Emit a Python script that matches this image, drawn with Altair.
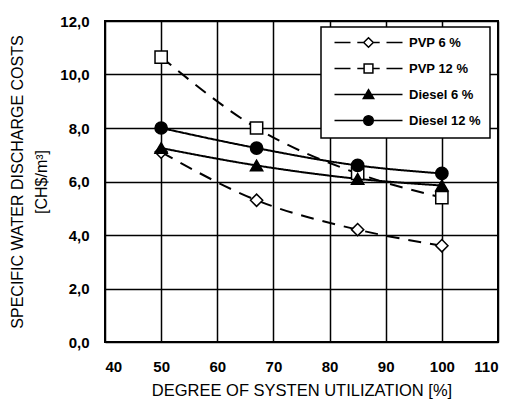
import altair as alt
import pandas as pd

# Degree of system utilization [%]
utilization = [50, 67, 85, 100]

# Specific water discharge costs [CH$/m³] per system variant
pvp_6 = [7.1, 5.3, 4.2, 3.6]
pvp_12 = [10.65, 8.0, 6.3, 5.4]
diesel_6 = [7.25, 6.6, 6.1, 5.85]
diesel_12 = [8.0, 7.25, 6.6, 6.3]

series_names = ["PVP 6 %", "PVP 12 %", "Diesel 6 %", "Diesel 12 %"]
series_values = [pvp_6, pvp_12, diesel_6, diesel_12]

x_ticks = [40, 50, 60, 70, 80, 90, 100, 110]
y_ticks = [0, 2, 4, 6, 8, 10, 12]

rows = []
for name, vals in zip(series_names, series_values):
    for u, v in zip(utilization, vals):
        rows.append({"series": name, "util": u, "cost": v})
df = pd.DataFrame(rows)

FONT = "Liberation Sans"

x_enc = alt.X(
    "util:Q",
    scale=alt.Scale(domain=[40, 110], nice=False),
    axis=alt.Axis(values=x_ticks, title="DEGREE OF SYSTEN UTILIZATION [%]",
                  labelPadding=17, titlePadding=8, titleFontSize=16.5),
)
y_enc = alt.Y(
    "cost:Q",
    scale=alt.Scale(domain=[0, 12], nice=False),
    axis=alt.Axis(values=y_ticks,
                  labelExpr="replace(format(datum.value, '.1f'), '.', ',')",
                  title=["SPECIFIC WATER DISCHARGE COSTS", "[CH$/m³]"],
                  labelPadding=16, titlePadding=10, titleLineHeight=24),
)

fill_scale = alt.Scale(domain=series_names, range=["white", "white", "black", "black"])
stroke_scale = alt.Scale(domain=series_names, range=["black", "black", "black", "black"])

# Connecting lines: dashed for PVP, solid for Diesel
lines = alt.Chart(df).mark_line(
    color="black", strokeWidth=2, interpolate="monotone"
).encode(
    x=x_enc, y=y_enc,
    detail="series:N",
    strokeDash=alt.StrokeDash(
        "series:N",
        scale=alt.Scale(domain=series_names, range=[[13, 9], [13, 9], [1, 0], [1, 0]]),
        legend=None,
    ),
)

# Markers: hollow diamond / square for PVP, filled triangle / circle for Diesel
points = alt.Chart(df).mark_point(
    filled=True, stroke="black", strokeWidth=1.5, size=150, opacity=1
).encode(
    x=x_enc, y=y_enc,
    shape=alt.Shape(
        "series:N",
        scale=alt.Scale(domain=series_names,
                        range=["diamond", "square", "triangle-up", "circle"]),
        legend=None,
    ),
    fill=alt.Fill("series:N", scale=fill_scale, legend=None),
)

# Legend symbols: a line sample with the series marker in its middle
dash_line = "M-0.5,0L3.5,0M5.2,0L7,0M9,0L10.8,0M12.5,0L16.5,0"
solid_line = "M-0.5,0L16.5,0"
diamond = "M8,-1.2L9.2,0L8,1.2L6.8,0Z"
square = "M6.9,-1.1L9.1,-1.1L9.1,1.1L6.9,1.1Z"
triangle = "M8,-1.2L9.3,1L6.7,1Z"
circle = "M6.8,0A1.2,1.2 0 1,0 9.2,0A1.2,1.2 0 1,0 6.8,0Z"
legend_paths = [dash_line + diamond, dash_line + square,
                solid_line + triangle, solid_line + circle]

legend_def = alt.Legend(
    title=None, orient="none", legendX=216, legendY=6,
    fillColor="white", strokeColor="black", padding=9,
    labelFont=FONT, labelFontSize=13, labelFontWeight="bold", labelColor="black",
    labelOffset=66, rowPadding=10, symbolSize=64,
    symbolStrokeColor="black", symbolStrokeWidth=1.5,
)

legend_layer = alt.Chart(df).transform_filter("false").mark_point(
    filled=True, strokeWidth=1.5, size=64, opacity=1
).encode(
    x=x_enc, y=y_enc,
    shape=alt.Shape("series:N",
                    scale=alt.Scale(domain=series_names, range=legend_paths),
                    legend=legend_def),
    fill=alt.Fill("series:N", scale=fill_scale, legend=legend_def),
    stroke=alt.Stroke("series:N", scale=stroke_scale, legend=legend_def),
)

chart = alt.layer(lines, points, legend_layer).resolve_scale(
    shape="independent", fill="independent", stroke="independent"
).properties(
    width=393, height=321,
    autosize=alt.AutoSizeParams(type="none"),
    padding={"left": 105, "top": 21, "right": 13, "bottom": 58},
).configure_view(
    stroke="black", strokeWidth=2
).configure_axis(
    grid=True, gridColor="black", gridWidth=1.5, gridOpacity=1,
    domain=False, ticks=False,
    labelFont=FONT, labelFontSize=15, labelFontWeight="bold", labelColor="black",
    titleFont=FONT, titleFontSize=16, titleFontWeight="normal", titleColor="black",
).configure_legend(
    strokeWidth=1.5,
)

chart.save("out.html", embed_options={"renderer": "svg", "actions": False})
